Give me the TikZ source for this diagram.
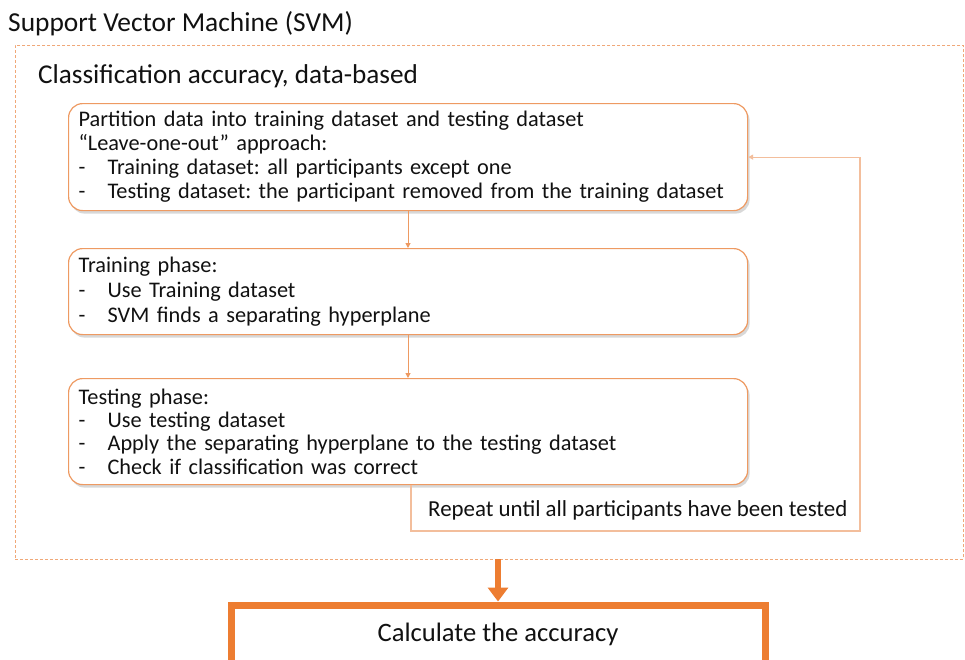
\documentclass[tikz,border=0pt]{standalone}
\usepackage{fontspec}
\setmainfont{Carlito}
\usetikzlibrary{arrows.meta,shadows}
\definecolor{boxor}{HTML}{EE9A62}
\definecolor{loopor}{HTML}{F3BE9C}
\definecolor{dashor}{HTML}{F0A878}
\definecolor{strongor}{HTML}{ED7D31}
\definecolor{txt}{HTML}{111111}
\newcommand{\boxfont}{\frenchspacing\fontsize{22.3}{24}\selectfont}
\newcommand{\itm}{\makebox[29pt][l]{-}}
\tikzset{
  stepbox/.style={draw=boxor, line width=1.2pt, rounded corners=14pt, fill=white,
    drop shadow={opacity=0.3, shadow xshift=2pt, shadow yshift=-3pt, fill=gray},
    minimum width=679pt, text width=659pt, align=left, inner xsep=10pt, inner ysep=0pt,
    anchor=north west, font=\boxfont, text=txt},
  flowarrow/.style={draw=boxor, line width=1pt, -{Triangle[length=5pt,width=5pt]}},
  loopline/.style={draw=loopor, line width=1.2pt, -{Triangle[length=5pt,width=5pt]}},
  outerbox/.style={draw=dashor, line width=0.8pt, dash pattern=on 3pt off 2pt,
    minimum width=948pt, minimum height=514pt, anchor=north west, inner sep=0pt},
  bigarrow/.style={draw=strongor, line width=5.5pt, -{Triangle[length=14pt,width=20pt]}},
  finalbox/.style={draw=strongor, line width=7pt, minimum width=534pt, minimum height=64pt,
    anchor=north, font=\fontsize{26.6}{30}\selectfont, text=txt, inner sep=0pt},
  plain/.style={inner sep=0pt, anchor=base west, text=txt}
}
\begin{document}
\frenchspacing
\begin{tikzpicture}[x=1pt,y=-1pt]
\useasboundingbox (0,0) rectangle (965,659);
\clip (0,0) rectangle (965,659);
\fill[white] (0,0) rectangle (965,659);

\node[plain, font=\fontsize{27.4}{30}\selectfont] (title) at (8,31) {Support Vector Machine (SVM)};
\node[outerbox] (outer) at (15,45) {};
\node[plain, font=\fontsize{27.2}{30}\selectfont] (sub) at (38,83) {Classification accuracy, data-based};

\node[stepbox, minimum height=107pt] (box1) at (68,103) {Partition data into training dataset and testing dataset\\
“Leave-one-out” approach:\\
\itm Training dataset: all participants except one\\
\itm Testing dataset: the participant removed from the training dataset};

\node[stepbox, minimum height=86pt, font=\frenchspacing\fontsize{22.3}{25}\selectfont] (box2) at (68,248) {Training phase:\\
\itm Use Training dataset\\
\itm SVM finds a separating hyperplane};

\node[stepbox, minimum height=106pt, font=\frenchspacing\fontsize{22.3}{23.4}\selectfont] (box3) at (68,378) {Testing phase:\\
\itm Use testing dataset\\
\itm Apply the separating hyperplane to the testing dataset\\
\itm Check if classification was correct};

\coordinate (ax) at (408,0);
\draw[flowarrow] (box1.south -| ax) -- (box2.north -| ax);
\draw[flowarrow] (box2.south -| ax) -- (box3.north -| ax);

\coordinate (lx) at (411,0);
\coordinate (lc) at (860,531);
\draw[loopline] (box3.south -| lx) |- (lc) |- (box1.east);
\node[plain, anchor=west, font=\fontsize{22.9}{24}\selectfont] (rep) at (428,510) {Repeat until all participants have been tested};

\node[finalbox] (final) at (498,601.5) {\raisebox{8.5pt}{Calculate the accuracy}};
\coordinate (bt) at (498,559);
\draw[bigarrow] (bt) -- (final.north);
\end{tikzpicture}
\end{document}
